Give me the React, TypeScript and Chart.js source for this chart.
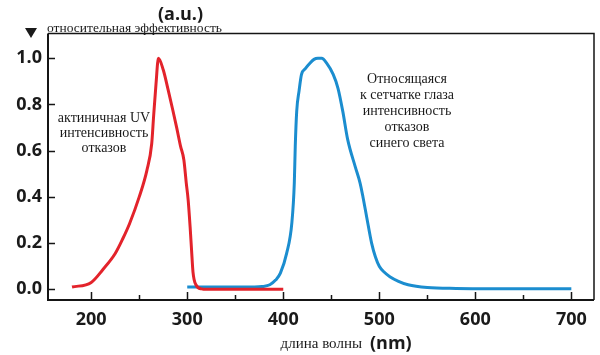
import { useEffect, useRef } from "react";
import { Chart, registerables } from "chart.js";

Chart.register(...registerables);

// Actinic UV hazard (red)
const uvWavelengths = [180, 200, 212, 225, 233, 240, 250, 258, 263, 265, 267.5, 270, 275, 280, 285, 289, 293, 296.5, 299, 301, 303, 304.5, 306, 309, 315, 320, 400];
const uvValues = [0.01, 0.03, 0.085, 0.155, 0.22, 0.285, 0.4, 0.515, 0.63, 0.75, 0.89, 1.0, 0.95, 0.865, 0.775, 0.7, 0.62, 0.56, 0.46, 0.385, 0.27, 0.17, 0.075, 0.02, 0.002, 0, 0];

// Blue light hazard (blue)
const blueWavelengths = [300, 340, 370, 378, 386, 392, 397, 403.5, 409, 411.5, 412.5, 414, 416.5, 419, 423, 427, 432, 436, 440, 445, 452, 457, 462, 467, 475, 480, 483, 487, 492, 496, 500, 505, 511, 520, 530, 550, 580, 620, 700];
const blueValues = [0.01, 0.01, 0.01, 0.012, 0.02, 0.04, 0.07, 0.156, 0.29, 0.46, 0.62, 0.77, 0.86, 0.93, 0.955, 0.975, 0.995, 1.0, 1.0, 0.98, 0.93, 0.87, 0.77, 0.65, 0.53, 0.46, 0.4, 0.31, 0.2, 0.14, 0.1, 0.075, 0.055, 0.035, 0.02, 0.008, 0.004, 0.003, 0.003];

const xMajorTicks = [200, 300, 400, 500, 600, 700];
const xMinorTicks = [250, 350, 450, 550, 650];
const yTicks = [0, 0.2, 0.4, 0.6, 0.8, 1.0];

const uvLabel = ["актиничная UV", "интенсивность", "отказов"];
const blueLabel = ["Относящаяся", "к сетчатке глаза", "интенсивность", "отказов", "синего света"];
const yTitle = "относительная эффективность";
const yUnit = "(a.u.)";
const xTitle = "длина волны";
const xUnit = "(nm)";

const RED = "#e3232b";
const BLUE = "#1b8dcf";
const SERIF = '"Liberation Serif", "DejaVu Serif", serif';
const SANS = '"Open Sans", "Liberation Sans", sans-serif';

const decorPlugin = {
  id: "decor",
  afterDraw(chart: any) {
    const { ctx, chartArea: a, scales } = chart;
    const xs = scales.x;
    const ys = scales.y;
    ctx.save();
    ctx.strokeStyle = "#151515";
    ctx.lineCap = "butt";
    // frame
    ctx.lineWidth = 2;
    ctx.beginPath();
    ctx.moveTo(a.left, a.top);
    ctx.lineTo(a.left, a.bottom);
    ctx.lineTo(a.right, a.bottom);
    ctx.stroke();
    ctx.lineWidth = 1.5;
    ctx.beginPath();
    ctx.moveTo(a.left, a.top);
    ctx.lineTo(a.right, a.top);
    ctx.lineTo(a.right, a.bottom);
    ctx.stroke();
    // inward ticks
    ctx.lineWidth = 1.5;
    ctx.beginPath();
    xMajorTicks.forEach((v) => {
      const px = Math.round(xs.getPixelForValue(v)) + 0.5;
      ctx.moveTo(px, a.bottom);
      ctx.lineTo(px, a.bottom - 8);
    });
    xMinorTicks.forEach((v) => {
      const px = Math.round(xs.getPixelForValue(v)) + 0.5;
      ctx.moveTo(px, a.bottom);
      ctx.lineTo(px, a.bottom - 5);
    });
    yTicks.forEach((v) => {
      const py = Math.round(ys.getPixelForValue(v)) + 0.5;
      ctx.moveTo(a.left, py);
      ctx.lineTo(a.left + 7, py);
    });
    ctx.stroke();

    // texts
    ctx.fillStyle = "#1a1a1a";
    ctx.textAlign = "center";
    ctx.textBaseline = "middle";
    ctx.font = `14px ${SERIF}`;
    uvLabel.forEach((t, i) => ctx.fillText(t, 104, 118 + i * 15));
    blueLabel.forEach((t, i) => ctx.fillText(t, 407, 79 + i * 16.2));

    // y title
    ctx.textAlign = "left";
    ctx.textBaseline = "alphabetic";
    ctx.font = `13.5px ${SERIF}`;
    ctx.fillText(yTitle, 47, 32);
    ctx.font = `bold 18px ${SANS}`;
    ctx.textAlign = "center";
    ctx.textBaseline = "middle";
    ctx.fillText(yUnit, 180.5, 15);
    // triangle
    ctx.beginPath();
    ctx.moveTo(25, 28);
    ctx.lineTo(37, 28);
    ctx.lineTo(31, 38);
    ctx.closePath();
    ctx.fill();

    // x title
    ctx.textAlign = "right";
    ctx.font = `15px ${SERIF}`;
    ctx.fillText(xTitle, 362, 344);
    ctx.textAlign = "left";
    ctx.font = `bold 18px ${SANS}`;
    ctx.fillText(xUnit, 370, 344);
    ctx.restore();
  },
};

export default function App() {
  const canvasRef = useRef<HTMLCanvasElement | null>(null);

  useEffect(() => {
    const canvas = canvasRef.current;
    if (!canvas) return;
    const chart = new Chart(canvas, {
      type: "line",
      data: {
        datasets: [
          {
            label: "blue",
            data: blueWavelengths.map((x, i) => ({ x, y: blueValues[i] })),
            borderColor: BLUE,
            borderWidth: 3,
            pointRadius: 0,
            cubicInterpolationMode: "monotone",
            fill: false,
            order: 2,
          },
          {
            label: "uv",
            data: uvWavelengths.map((x, i) => ({ x, y: uvValues[i] })),
            borderColor: RED,
            borderWidth: 3,
            pointRadius: 0,
            cubicInterpolationMode: "monotone",
            fill: false,
            order: 1,
          },
        ],
      },
      options: {
        animation: false,
        responsive: false,
        maintainAspectRatio: false,
        events: [],
        layout: { padding: { top: 33.5, right: 6, left: 0, bottom: 0 } },
        plugins: { legend: { display: false }, tooltip: { enabled: false }, title: { display: false } },
        scales: {
          x: {
            type: "linear",
            min: 155,
            max: 723.6,
            grid: { display: false, drawTicks: false },
            border: { display: false },
            afterBuildTicks: (scale: any) => {
              scale.ticks = xMajorTicks.map((v) => ({ value: v }));
            },
            afterFit: (scale: any) => {
              scale.height = 55;
            },
            ticks: {
              padding: 9,
              color: "#1a1a1a",
              maxRotation: 0,
              autoSkip: false,
              font: { family: SANS, size: 18, weight: "bold" },
              callback: (v: any) => String(v),
            },
          },
          y: {
            type: "linear",
            min: -0.046,
            max: 1.107,
            grid: { display: false, drawTicks: false },
            border: { display: false },
            afterBuildTicks: (scale: any) => {
              scale.ticks = yTicks.map((v) => ({ value: v }));
            },
            afterFit: (scale: any) => {
              scale.width = 48;
            },
            ticks: {
              padding: 6,
              color: "#1a1a1a",
              autoSkip: false,
              font: { family: SANS, size: 18, weight: "bold" },
              callback: (v: any) => Number(v).toFixed(1),
            },
          },
        },
      },
      plugins: [decorPlugin],
    } as any);
    return () => chart.destroy();
  }, []);

  return (
    <div style={{ position: "fixed", left: 0, top: 0, width: 600, height: 355, background: "#fff" }}>
      <canvas ref={canvasRef} width={600} height={355} style={{ width: 600, height: 355, display: "block" }} />
    </div>
  );
}
